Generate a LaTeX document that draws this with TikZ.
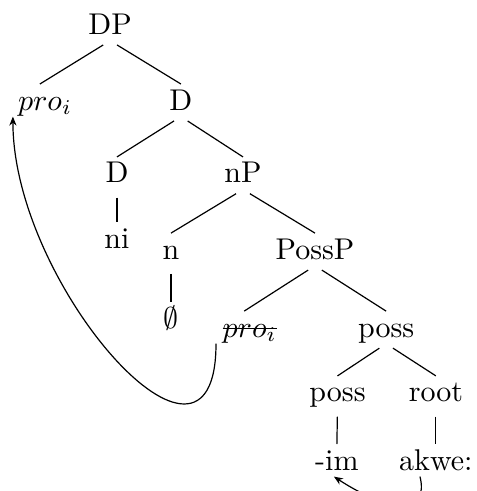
\documentclass[tikz,border=0pt]{standalone}
\usepackage{tikz}
\usetikzlibrary{arrows.meta,calc}

\newcommand{\strk}[1]{\setbox0\hbox{#1}\rlap{\rule[0.6ex]{\wd0}{0.4pt}}\box0}

\tikzset{
  tn/.style={anchor=base, inner sep=2pt, text height=1.5ex, text depth=0pt},
  br/.style={shorten <=2.7pt},
  mv/.style={-{Stealth[length=3pt,width=2.4pt]}}
}

\begin{document}
\begin{tikzpicture}[x=1pt, y=1pt]
  \useasboundingbox (0,0) rectangle (158.67,163.67);

  \node[tn] (dp)    at (36.7,152.3) {DP};
  \node[tn] (proa)  at (15,127)     {$pro_i$};
  \node[tn] (dbar)  at (60.3,127)   {D};
  \node[tn] (d)     at (39,102.7)   {D};
  \node[tn] (np)    at (81,102.7)   {nP};
  \node[tn] (ni)    at (39,81)      {ni};
  \node[tn] (n)     at (57,77.3)    {n};
  \node[tn] (possp) at (105,77.3)   {PossP};
  \node[tn] (null)  at (57,54.3)    {$\emptyset$};
  \node[tn] (prob)  at (83.2,51.3)  {\strk{$pro_i$}};
  \node[tn] (possa) at (128.7,51.3) {poss};
  \node[tn] (possb) at (112.5,29.7) {poss};
  \node[tn] (root)  at (145.3,29.7) {root};
  \node[tn] (im)    at (112.3,7)    {-im};
  \node[tn] (akwe)  at (145.3,7)    {akwe:};

  \draw[br] (dp.south) -- ([xshift=-1.7pt]proa.north);
  \draw[br] (dp.south) -- (dbar.north);
  \draw[br] (dbar.south) -- (d.north);
  \draw[br] (dbar.south) -- (np.north);
  \draw[br] (d.south) -- (ni.north);
  \draw[br] (np.south) -- (n.north);
  \draw[br] (np.south) -- (possp.north);
  \draw[br] (n.south) -- (null.north);
  \draw[br] (possp.south) -- ([xshift=-1.8pt]prob.north);
  \draw[br] (possp.south) -- (possa.north);
  \draw[br] (possa.south) -- (possb.north);
  \draw[br] (possa.south) -- (root.north);
  \draw[br] (possb.south) -- (im.north);
  \draw[br] (root.south) -- (akwe.north);

  \draw[mv] (prob.south west) .. controls +(0,-56.7) and +(0,-56.7) .. ([xshift=0.5pt]proa.south west);
  \draw[mv] ([xshift=-5.3pt]akwe.south) .. controls +(3,-12) and +(20,-13) .. ([xshift=-1pt]im.south);
\end{tikzpicture}
\end{document}
